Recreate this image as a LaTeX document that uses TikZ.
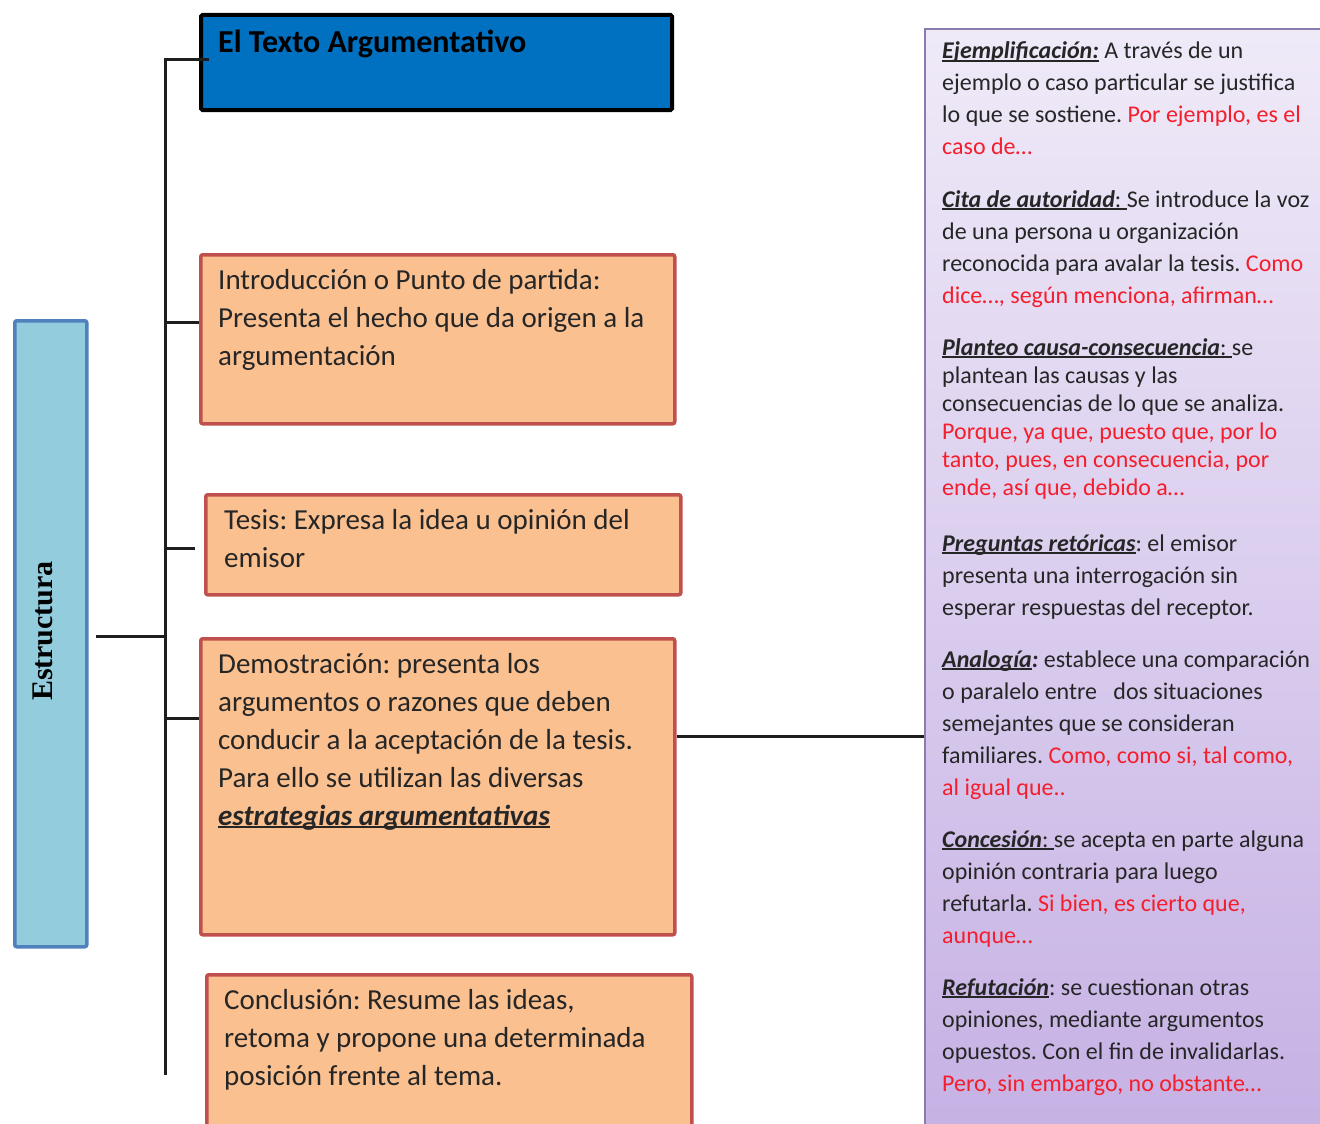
\documentclass[tikz,border=0pt]{standalone}
\usepackage{fontspec}
\setmainfont{Carlito}
\newfontfamily\serifbold{Liberation Serif}
\definecolor{lineclr}{HTML}{1E1E1E}
\definecolor{boxfill}{HTML}{FAC090}
\definecolor{boxborder}{HTML}{C0504D}
\definecolor{titlefill}{HTML}{0070C0}
\definecolor{estrfill}{HTML}{93CDDD}
\definecolor{estrborder}{HTML}{4F81BD}
\definecolor{paneltop}{HTML}{EFEAF8}
\definecolor{panelbot}{HTML}{C6B1E4}
\definecolor{panelborder}{HTML}{8C7BAE}
\definecolor{txt}{HTML}{262626}
\definecolor{rdclr}{HTML}{F41E2C}
\newcommand\lns[1]{\begin{tabular}[t]{@{}l@{}}#1\end{tabular}}
\newcommand\hd[1]{\setbox0\hbox{#1}\rlap{\rule[-0.11em]{\wd0}{0.065em}}\box0\relax}
\newcommand\rd[1]{\textcolor{rdclr}{#1}}
\newcommand\bi[1]{\textbf{\textit{#1}}}
\begin{document}
\frenchspacing
\begin{tikzpicture}[x=1pt,y=-1pt,
  conn/.style={line width=3pt, draw=lineclr},
  orangebox/.style={draw=boxborder, fill=boxfill, line width=3.5pt, rounded corners=2pt, anchor=north west, inner sep=0pt},
  boxtext/.style={anchor=base west, inner sep=0pt, text=txt, font=\frenchspacing\fontsize{29}{38}\selectfont},
  paneltext/.style={anchor=base west, inner sep=0pt, text=txt, font=\frenchspacing\fontsize{24}{32}\selectfont},
  paneltextb/.style={anchor=base west, inner sep=0pt, text=txt, font=\frenchspacing\fontsize{24}{28}\selectfont},
]
\useasboundingbox (0,0) rectangle (1320,1124);
\fill[white] (0,0) rectangle (1320,1124);

% right panel
\node[draw=panelborder, line width=2pt, top color=paneltop, bottom color=panelbot,
      anchor=north west, inner sep=0pt, minimum width=406pt, minimum height=1107pt] (panel) at (924,28) {};

% left boxes
\node[draw=estrborder, fill=estrfill, line width=3.5pt, rounded corners=2pt, anchor=north west,
      inner sep=0pt, minimum width=72pt, minimum height=626pt] (estr) at (13,319) {};
\node[draw=black, fill=titlefill, line width=4pt, rounded corners=1.5pt, anchor=north west,
      inner sep=0pt, minimum width=471pt, minimum height=95pt] (title) at (199,13) {};
\node[orangebox, minimum width=474pt, minimum height=169pt] (intro) at (199,253) {};
\node[orangebox, minimum width=475pt, minimum height=100pt] (tesis) at (204,493) {};
\node[orangebox, minimum width=474pt, minimum height=296pt] (demo) at (199,637) {};
\node[orangebox, minimum width=485pt, minimum height=160pt] (concl) at (205,973) {};

% connectors
\coordinate (ttop) at (165,60);
\coordinate (tbot) at (165,1075);
\draw[conn] ([xshift=10pt]ttop -| title.west) -- (ttop) -- (tbot);
\coordinate (j1) at (165,322);
\draw[conn] (j1) -- (j1 -| intro.west);
\coordinate (j2) at (165,548);
\draw[conn, shorten >=9pt] (j2) -- (j2 -| tesis.west);
\coordinate (j3) at (165,718);
\draw[conn] (j3) -- (j3 -| demo.west);
\coordinate (j4) at (165,636);
\draw[conn, shorten >=7pt] (j4) -- (j4 -| estr.east);
\coordinate (j5) at (673,736);
\draw[conn] (j5 -| demo.east) -- (j5 -| panel.west);

% texts
\node[rotate=90, inner sep=0pt, text=black, font=\serifbold\bfseries\fontsize{30}{30}\selectfont] (estrtxt) at (42.5,631) {Estructura};
\node[anchor=base west, inner sep=0pt, text=black, font=\bfseries\fontsize{32}{38}\selectfont] (titletxt) at (218,53) {El Texto Argumentativo};

\node[boxtext] (introtxt) at (218,289) {\lns{Introducción o Punto de partida:\\ Presenta el hecho que da origen a la\\ argumentación}};
\node[boxtext] (tesistxt) at (224,529) {\lns{Tesis: Expresa la idea u opinión del\\ emisor}};
\node[boxtext] (demotxt) at (218,673) {\lns{Demostración: presenta los\\ argumentos o razones que deben\\ conducir a la aceptación de la tesis.\\ Para ello se utilizan las diversas\\ \hd{\bi{estrategias argumentativas}}}};
\node[boxtext] (concltxt) at (224,1009) {\lns{Conclusión: Resume las ideas,\\ retoma y propone una determinada\\ posición frente al tema.}};

\node[paneltext] (p1) at (942,59) {\lns{\hd{\bi{Ejemplificación:}} A través de un\\ ejemplo o caso particular se justifica\\ lo que se sostiene. \rd{Por ejemplo, es el}\\ \rd{caso de…}}};
\node[paneltext] (p2) at (942,207) {\lns{\hd{\bi{Cita de autoridad}:\ }Se introduce la voz\\ de una persona u organización\\ reconocida para avalar la tesis. \rd{Como}\\ \rd{dice…, según menciona, afirman…}}};
\node[paneltextb] (p3) at (942,355) {\lns{\hd{\bi{Planteo causa-consecuencia}:\ }se\\ plantean las causas y las\\ consecuencias de lo que se analiza.\\ \rd{Porque, ya que, puesto que, por lo}\\ \rd{tanto, pues, en consecuencia, por}\\ \rd{ende, así que, debido a…}}};
\node[paneltext] (p4) at (942,551) {\lns{\hd{\bi{Preguntas retóricas}}: el emisor\\ presenta una interrogación sin\\ esperar respuestas del receptor.}};
\node[paneltext] (p5) at (942,667) {\lns{\hd{\bi{Analogía}}\bi{:} establece una comparación\\ o paralelo entre\ \ \ dos situaciones\\ semejantes que se consideran\\ familiares. \rd{Como, como si, tal como,}\\ \rd{al igual que..}}};
\node[paneltext] (p6) at (942,847) {\lns{\hd{\bi{Concesión}:\ }se acepta en parte alguna\\ opinión contraria para luego\\ refutarla. \rd{Si bien, es cierto que,}\\ \rd{aunque…}}};
\node[paneltext] (p7) at (942,995) {\lns{\hd{\bi{Refutación}}: se cuestionan otras\\ opiniones, mediante argumentos\\ opuestos. Con el fin de invalidarlas.\\ \rd{Pero, sin embargo, no obstante…}}};
\end{tikzpicture}
\end{document}
